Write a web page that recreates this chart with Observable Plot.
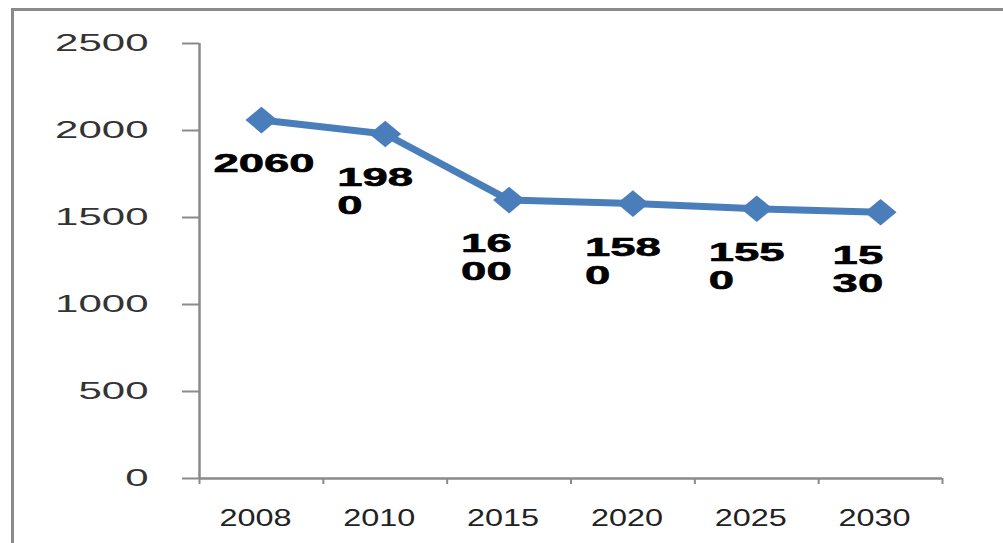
<!DOCTYPE html>
<html><head><meta charset="utf-8">
<script src="https://cdn.jsdelivr.net/npm/d3@7"></script>
<script src="https://cdn.jsdelivr.net/npm/@observablehq/plot@0.6"></script>
<style>
html,body{margin:0;padding:0;background:#fff;}
#wrap{position:relative;width:1003px;height:543px;overflow:hidden;}
#frame{position:absolute;left:11px;top:8px;right:-10px;bottom:-10px;border-left:3px solid #8a8a8a;border-top:3px solid #8a8a8a;pointer-events:none;}
</style></head><body><div id="wrap"><div id="frame"></div></div>
<script>
const years = ["2008", "2010", "2015", "2020", "2025", "2030"];
const values = [2060, 1980, 1600, 1580, 1550, 1530];
const valueLabels = ["2060", "198\n0", "16\n00", "158\n0", "155\n0", "15\n30"];
const yTicks = [0, 500, 1000, 1500, 2000, 2500];

const data = years.map((year, i) => ({year, pos: i + 0.5, value: values[i], label: valueLabels[i]}));
const boundaries = d3.range(years.length + 1);

const chart = Plot.plot({
  width: 1003, height: 543,
  marginLeft: 199, marginRight: 61, marginTop: 43, marginBottom: 65,
  style: {background: "transparent", fontFamily: "'Liberation Sans', Arial, sans-serif"},
  x: {domain: [0, years.length], axis: null},
  y: {domain: [0, 2500], axis: null},
  marks: [
    Plot.axisY({ticks: yTicks, label: null, tickSize: 17, tickPadding: 34, stroke: "#8a8a8a", strokeWidth: 2, fill: "#333", fontSize: 24, tickFormat: d => String(d)}),
    Plot.axisX({ticks: boundaries, label: null, tickSize: 6, stroke: "#8a8a8a", strokeWidth: 2, tickFormat: () => ""}),
    Plot.axisX({ticks: data.map(d => d.pos), label: null, tickSize: 0, tickPadding: 30, fill: "#222", fontSize: 24, dx: -6, tickFormat: d => years[Math.floor(d)]}),
    Plot.ruleX([0], {stroke: "#8a8a8a", strokeWidth: 2.5}),
    Plot.ruleY([0], {stroke: "#8a8a8a", strokeWidth: 2.5}),
    Plot.line(data, {x: "pos", y: "value", stroke: "#4a7ebb", strokeWidth: 7}),
    Plot.dot(data, {x: "pos", y: "value", symbol: "diamond2", r: 12, fill: "#4a7ebb", stroke: "none"}),
    Plot.text(data, {x: "pos", y: "value", text: "label", textAnchor: "start", lineAnchor: "top", dx: -48, dy: 32, fontSize: 26, fontWeight: "bold", fill: "#000", stroke: "#000", strokeWidth: 0.6, lineHeight: 1.08})
  ]
});
document.getElementById("wrap").insertBefore(chart, document.getElementById("frame"));

function stretch(sel, sx) {
  sel.each(function () {
    const el = d3.select(this);
    const t = el.attr("transform");
    if (t) el.attr("transform", t + ` scale(${sx},1)`);
    else {
      const x = +el.attr("x") || 0, y = +el.attr("y") || 0;
      el.attr("x", null).attr("y", null).attr("transform", `translate(${x},${y}) scale(${sx},1)`);
    }
  });
}
const svg = d3.select(chart);
stretch(svg.selectAll('g[aria-label="y-axis tick label"] text'), 1.75);
stretch(svg.selectAll('g[aria-label="x-axis tick label"] text'), 1.35);
stretch(svg.selectAll('g[aria-label="text"] text'), 1.75);
stretch(svg.selectAll('g[aria-label="dot"] path'), 1.2);
</script>
</body></html>
